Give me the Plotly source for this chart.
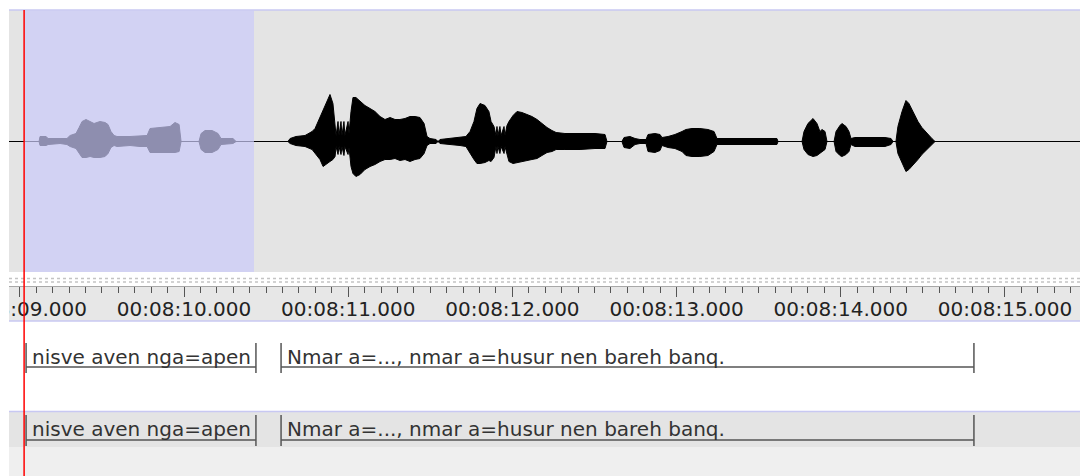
import plotly.graph_objects as go

W, H = 1080, 476

# ---------------- data (time in seconds after 00:08:00) ----------------
view_start = 8.934
view_end = 15.457
cursor_time = 9.026
selection_start = 9.026
selection_end = 10.426

tick_seconds = [9, 10, 11, 12, 13, 14, 15]
tick_labels = ["00:08:09.000", "00:08:10.000", "00:08:11.000", "00:08:12.000",
               "00:08:13.000", "00:08:14.000", "00:08:15.000"]

# waveform envelope: time, upper amplitude, lower amplitude
wave_t = [9.117, 9.123, 9.160, 9.172, 9.245, 9.287, 9.306, 9.342, 9.361, 9.379,
          9.403, 9.428, 9.452, 9.488, 9.519, 9.537, 9.555, 9.574, 9.592, 9.671,
          9.732, 9.775, 9.793, 9.854, 9.915, 9.945, 9.970, 9.982, 10.091, 10.104,
          10.128, 10.171, 10.207, 10.225, 10.298, 10.317,
          10.633, 10.646, 10.682, 10.737, 10.780, 10.798, 10.828, 10.847, 10.871, 10.889,
          10.907, 10.920, 10.926, 10.938, 10.944, 10.956, 10.962, 10.974, 10.980, 10.999,
          11.005, 11.017, 11.029, 11.047, 11.072, 11.102, 11.133, 11.163, 11.194, 11.224,
          11.255, 11.285, 11.315, 11.346, 11.376, 11.407, 11.437, 11.462, 11.480, 11.498,
          11.535, 11.547, 11.559, 11.620, 11.681, 11.717, 11.742, 11.766, 11.784, 11.803,
          11.833, 11.857, 11.870, 11.888, 11.900, 11.906, 11.912, 11.924, 11.931, 11.949,
          11.955, 11.967, 11.979, 12.004, 12.028, 12.058, 12.089, 12.119, 12.150, 12.180,
          12.211, 12.241, 12.266, 12.320, 12.412, 12.503, 12.564, 12.576, 12.667, 12.680,
          12.716, 12.747, 12.777, 12.814, 12.826, 12.868, 12.899, 12.911, 12.948, 12.990,
          13.033, 13.057, 13.094, 13.142, 13.191, 13.228, 13.246, 13.386, 13.508, 13.611,
          13.618, 13.764, 13.776, 13.800, 13.831, 13.855, 13.873, 13.886, 13.904, 13.916,
          13.959, 13.971, 13.995, 14.007, 14.032, 14.050, 14.062, 14.086, 14.178, 14.269,
          14.306, 14.318, 14.336, 14.348, 14.373, 14.397, 14.415, 14.440, 14.470, 14.494,
          14.525, 14.555, 14.574]
wave_up = [0, 5, 5, 3, 3, 3, 6, 8, 14, 20,
           22, 20, 18, 20, 19, 17, 10, 6, 5, 5,
           6, 6, 13, 14, 15, 19, 17, 0, 0, 8,
           11, 11, 8, 3, 3, 0,
           0, 3, 5, 6, 10, 13, 24, 30, 40, 47,
           38, 20, 6, 20, 6, 20, 6, 20, 6, 20,
           8, 30, 44, 44, 40, 36, 33, 30, 25, 22,
           24, 22, 22, 23, 25, 25, 24, 18, 5, 3,
           2, 0, 2, 3, 4, 5, 10, 20, 33, 38,
           36, 30, 20, 15, 6, 15, 6, 15, 6, 15,
           6, 16, 20, 26, 30, 29, 27, 25, 22, 18,
           14, 11, 9, 8, 8, 8, 7, 0, 0, 4,
           5, 3, 2, 2, 7, 8, 7, 4, 5, 7,
           10, 12, 13, 13, 12, 10, 3, 3, 3, 3,
           0, 0, 10, 18, 23, 18, 10, 12, 10, 0,
           0, 10, 16, 18, 15, 10, 3, 4, 4, 4,
           3, 0, 0, 15, 30, 41, 38, 30, 20, 14,
           8, 3, 0]
wave_down = [0, 4, 4, 3, 2, 3, 5, 7, 12, 16,
             16, 15, 16, 16, 15, 12, 6, 4, 5, 4,
             5, 5, 11, 11, 11, 11, 10, 0, 0, 8,
             11, 11, 8, 3, 2, 0,
             0, 2, 4, 5, 8, 12, 18, 25, 22, 20,
             18, 15, 5, 13, 5, 13, 5, 14, 5, 13,
             6, 25, 32, 35, 33, 28, 25, 23, 20, 18,
             18, 17, 19, 18, 20, 18, 17, 12, 4, 2,
             2, 0, 2, 3, 4, 5, 12, 18, 22, 22,
             21, 19, 20, 16, 5, 12, 5, 12, 5, 12,
             5, 13, 20, 22, 21, 20, 19, 18, 17, 14,
             11, 10, 8, 8, 8, 7, 7, 0, 0, 6,
             7, 3, 2, 2, 10, 11, 9, 4, 6, 7,
             10, 14, 15, 15, 14, 10, 3, 3, 3, 3,
             0, 0, 8, 13, 15, 14, 12, 10, 8, 0,
             0, 10, 14, 15, 13, 10, 3, 5, 5, 5,
             3, 0, 0, 12, 22, 30, 28, 24, 18, 13,
             8, 3, 0]

ann_start = [9.038, 10.591]
ann_end = [10.438, 14.811]
ann_text = ["nisve aven nga=apen", "Nmar a=..., nmar a=husur nen bareh banq."]

# ---------------- helpers ----------------
def py(px):
    return 1 - px / H

def pxx(px):
    return px / W

FONT = "DejaVu Sans"

fig = go.Figure()

# centre line
fig.add_trace(go.Scatter(x=[view_start, view_end], y=[0, 0], mode="lines",
                         line=dict(color="black", width=1), hoverinfo="skip",
                         showlegend=False))
# waveform polygon
poly_x = wave_t + wave_t[::-1]
poly_y = wave_up + [-d for d in wave_down[::-1]]
fig.add_trace(go.Scatter(x=poly_x, y=poly_y, mode="lines", fill="toself",
                         fillcolor="black", line=dict(color="black", width=1),
                         hoverinfo="skip", showlegend=False))

shapes = []
x_left = pxx(9)
# ruler background
shapes.append(dict(type="rect", xref="paper", yref="paper", x0=x_left, x1=1,
                   y0=py(321), y1=py(286), fillcolor="#e7e7e7", line_width=0, layer="below"))
# dotted separator strip
for yy in (278.5, 282):
    shapes.append(dict(type="line", xref="paper", yref="paper", x0=x_left, x1=1,
                       y0=py(yy), y1=py(yy), line=dict(color="#c4c4c4", width=1.5, dash="dot"),
                       layer="below"))
# tier 2 background
shapes.append(dict(type="rect", xref="paper", yref="paper", x0=x_left, x1=1,
                   y0=py(447), y1=py(412), fillcolor="#e4e4e4", line_width=0, layer="below"))
# bottom filler
shapes.append(dict(type="rect", xref="paper", yref="paper", x0=x_left, x1=1,
                   y0=0, y1=py(447), fillcolor="#efefef", line_width=0, layer="below"))
# light blue separators
for yy in (10, 321, 411.5):
    shapes.append(dict(type="line", xref="paper", yref="paper", x0=x_left, x1=1,
                       y0=py(yy), y1=py(yy), line=dict(color="#c8c8f2", width=1.5)))
# selection overlay
shapes.append(dict(type="rect", xref="x", yref="paper", x0=selection_start, x1=selection_end,
                   y0=py(272), y1=py(10.5), fillcolor="rgba(203,203,249,0.70)",
                   line_width=0, layer="above"))
# mask tick label overflow at far left
shapes.append(dict(type="rect", xref="paper", yref="paper", x0=-0.02, x1=x_left,
                   y0=py(322), y1=py(284), fillcolor="white", line_width=0, layer="above"))

# annotation brackets for both tiers
tiers = [dict(top=343, bottom=373, base=367, text_y=357),
         dict(top=415, bottom=446, base=440, text_y=429)]
annotations = []
for tier in tiers:
    for s, e, txt in zip(ann_start, ann_end, ann_text):
        for xv in (s, e):
            shapes.append(dict(type="line", xref="x", yref="paper", x0=xv, x1=xv,
                               y0=py(tier["bottom"]), y1=py(tier["top"]),
                               line=dict(color="#555555", width=1.5), layer="above"))
        shapes.append(dict(type="line", xref="x", yref="paper", x0=s, x1=e,
                           y0=py(tier["base"]), y1=py(tier["base"]),
                           line=dict(color="#555555", width=1.5), layer="above"))
        annotations.append(dict(x=s, xref="x", y=py(tier["text_y"]), yref="paper",
                                text=txt, showarrow=False, xanchor="left", yanchor="middle",
                                xshift=4, font=dict(family=FONT, size=20, color="#333333")))

# red cursor
shapes.append(dict(type="line", xref="x", yref="paper", x0=cursor_time, x1=cursor_time,
                   y0=0, y1=py(10), line=dict(color="#ff0000", width=1.5), layer="above"))

fig.update_layout(
    width=W, height=H,
    margin=dict(l=0, r=0, t=0, b=0, pad=0),
    paper_bgcolor="white",
    plot_bgcolor="#e4e4e4",
    showlegend=False,
    shapes=shapes,
    annotations=annotations,
    xaxis=dict(domain=[x_left, 1], range=[view_start, view_end], anchor="free",
               position=py(286), side="bottom", showgrid=False, zeroline=False,
               automargin=False,
               showline=True, linecolor="#a8a8a8", linewidth=1,
               ticks="outside", ticklen=10, tickwidth=1, tickcolor="#555555",
               tickvals=tick_seconds, ticktext=tick_labels,
               ticklabeloverflow="allow", ticklabelstandoff=-5,
               tickfont=dict(family=FONT, size=20, color="#222222"),
               minor=dict(dtick=0.1, tick0=9, ticks="outside", ticklen=6,
                          tickwidth=1, tickcolor="#555555", showgrid=False),
               fixedrange=True),
    yaxis=dict(domain=[py(272), py(10)], range=[-130.5, 131.5], visible=False,
               automargin=False, fixedrange=True, anchor="x"),
)

fig.write_html("out.html",
               config={"displayModeBar": False},
               post_script="document.body.style.margin='0';document.body.style.padding='0';")
